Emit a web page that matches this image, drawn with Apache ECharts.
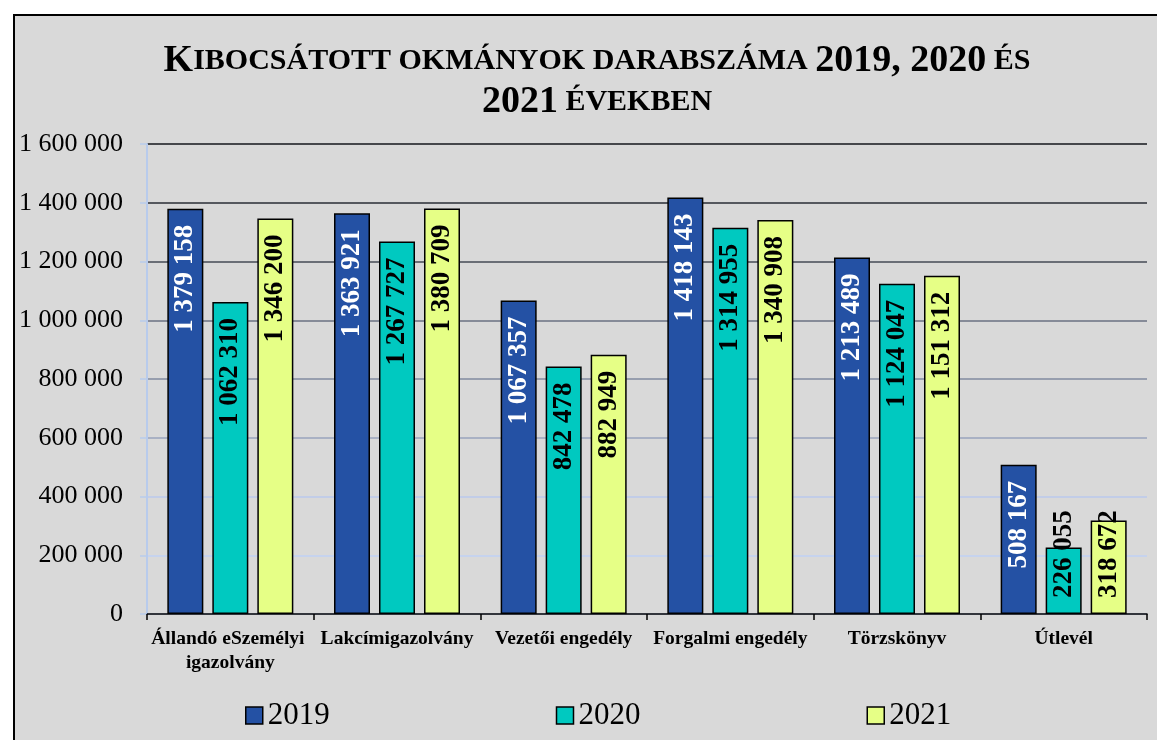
<!DOCTYPE html>
<html>
<head>
    <meta charset="utf-8">
    <title>Kibocsátott okmányok darabszáma</title>
    <style>
        html, body { margin: 0; padding: 0; background: #fff; overflow: hidden; }
        .frame {
            position: absolute; left: 13px; top: 14px;
            width: 1200px; height: 800px;
            background-color: #d9d9d9;
            border: 2px solid #000;
        }
        #chartBox { position: absolute; left: 0; top: 0; width: 1157px; height: 740px; }
    </style>
</head>
<body>
    <div class="frame"></div>
    <div id="chartBox"></div>

    <script src="https://cdn.jsdelivr.net/npm/echarts@6/dist/echarts.min.js"></script>
    <script>
        // kategóriák és évek
        var categories = ['Állandó eSzemélyi igazolvány', 'Lakcímigazolvány', 'Vezetői engedély',
            'Forgalmi engedély', 'Törzskönyv', 'Útlevél'];
        var years = ['2019', '2020', '2021'];
        var data2019 = [1379158, 1363921, 1067357, 1418143, 1213489, 508167];
        var data2020 = [1062310, 1267727, 842478, 1314955, 1124047, 226055];
        var data2021 = [1346200, 1380709, 882949, 1340908, 1151312, 318672];
        var yTicks = [0, 200000, 400000, 600000, 800000, 1000000, 1200000, 1400000, 1600000];

        var colors = ['#2451a4', '#00c9c0', '#e6ff86'];
        var labelColors = ['#fff', '#000', '#000'];
        var serif = '"Liberation Serif", "Times New Roman", serif';

        // szóközös ezres tagolás
        function fmt(v) {
            return String(v).replace(/\B(?=(\d{3})+(?!\d))/g, ' ');
        }

        var chart = echarts.init(document.getElementById('chartBox'));

        var series = [data2019, data2020, data2021].map(function (arr, i) {
            return {
                name: years[i],
                type: 'bar',
                barWidth: 36,
                barGap: '25%',
                itemStyle: { color: colors[i], borderColor: '#000', borderWidth: 1.5 },
                label: {
                    show: true,
                    position: 'insideTop',
                    rotate: 90,
                    align: 'right',
                    verticalAlign: 'middle',
                    distance: 16,
                    color: labelColors[i],
                    fontFamily: serif,
                    fontWeight: 'bold',
                    fontSize: 27,
                    formatter: function (p) { return fmt(p.value); }
                },
                data: arr.map(function (v, j) {
                    // alacsony oszlopoknál a felirat alulról indul (Útlevél)
                    if (j === 5 && i > 0) {
                        return { value: v, label: { position: 'insideBottom', align: 'left', distance: 16 } };
                    }
                    return v;
                })
            };
        });

        var option = {
            animation: false,
            backgroundColor: 'transparent',
            title: {
                left: 592,
                top: 36,
                textAlign: 'center',
                text: '{b|K}{s|IBOCSÁTOTT OKMÁNYOK DARABSZÁMA }{b|2019, 2020}{s| ÉS}\n{b|2021}{s| ÉVEKBEN}',
                textStyle: {
                    rich: {
                        b: { fontFamily: serif, fontWeight: 'bold', fontSize: 38, lineHeight: 41, color: '#000' },
                        s: { fontFamily: serif, fontWeight: 'bold', fontSize: 30, lineHeight: 41, color: '#000' }
                    }
                }
            },
            legend: {
                data: years,
                left: 240,
                top: 695,
                itemWidth: 17,
                itemHeight: 17,
                itemGap: 226,
                icon: 'rect',
                itemStyle: { borderColor: '#000', borderWidth: 1.5 },
                textStyle: { fontFamily: serif, fontSize: 31, color: '#000' }
            },
            grid: { left: 147, right: 10, top: 144, bottom: 126, containLabel: false, outerBoundsMode: 'none' },
            xAxis: {
                type: 'category',
                data: categories,
                axisLine: { lineStyle: { color: '#000', width: 1.5 } },
                axisTick: { show: true, length: 6, lineStyle: { color: '#000', width: 1.5 } },
                axisLabel: {
                    interval: 0,
                    margin: 13,
                    width: 190,
                    overflow: 'break',
                    lineHeight: 24,
                    fontFamily: serif,
                    fontWeight: 'bold',
                    fontSize: 19.5,
                    color: '#000'
                }
            },
            yAxis: {
                type: 'value',
                min: yTicks[0],
                max: yTicks[yTicks.length - 1],
                interval: yTicks[1] - yTicks[0],
                axisLine: { show: true, lineStyle: { color: '#b8cbec', width: 2 } },
                axisTick: { show: true, length: 7, lineStyle: { color: '#b8cbec', width: 1.5 } },
                axisLabel: {
                    margin: 24,
                    fontFamily: serif,
                    fontSize: 26,
                    color: '#000',
                    formatter: function (v) { return fmt(v); }
                },
                splitLine: {
                    lineStyle: {
                        width: 2,
                        color: ['#c8d6f0', '#c6d3ee', '#c2cde8', '#a9b1c4', '#979eae',
                            '#868b98', '#6a6e76', '#55585e', '#45474b']
                    }
                }
            },
            series: series
        };

        chart.setOption(option);
        window.addEventListener('resize', function () { chart.resize(); });
    </script>
</body>
</html>
